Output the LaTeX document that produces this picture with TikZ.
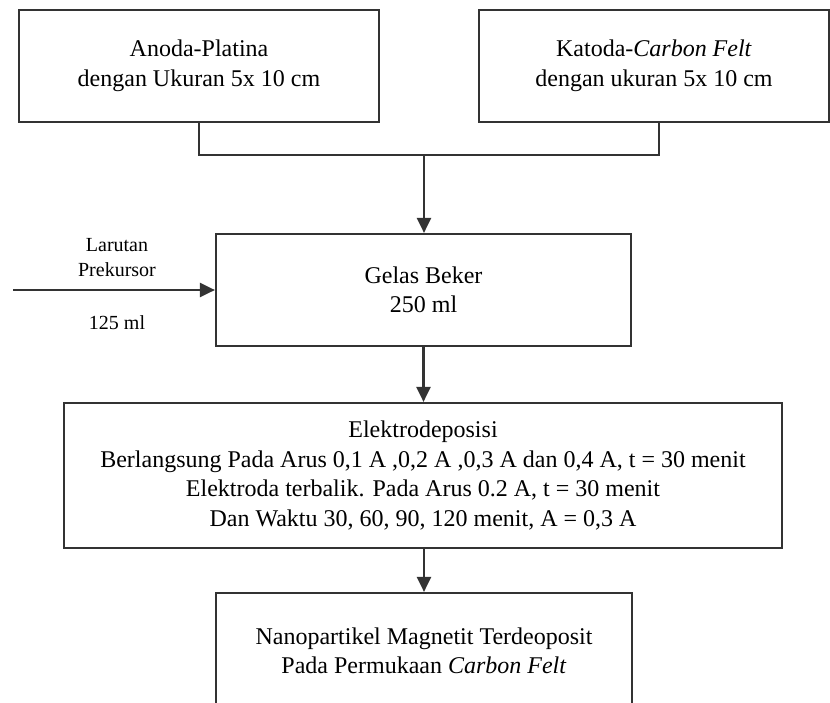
\documentclass[tikz,border=0pt]{standalone}
\usepackage{fontspec}
\setmainfont{Liberation Serif}
\usetikzlibrary{arrows.meta}
\begin{document}
\begin{tikzpicture}[x=1pt,y=-1pt,
  boxtext/.style={font=\fontsize{24}{29.5}\selectfont, align=center},
  stepbox/.style={draw=black!80, line width=2.2pt, inner sep=0pt},
  smalltext/.style={font=\fontsize{20}{25}\selectfont, align=center},
  link/.style={draw=black!80, line width=2.2pt},
  flow/.style={link, -{Triangle[length=15pt,width=14pt]}}]
  \useasboundingbox (0,0) rectangle (830,702);
  \clip (0,0) rectangle (830,702);
  \fill[white] (0,0) rectangle (830,702);

  % electrodes
  \node[stepbox, boxtext, minimum width=360pt, minimum height=112pt] (anoda) at (199,66)
    {Anoda-Platina\\dengan Ukuran 5x 10 cm};
  \node[stepbox, boxtext, minimum width=350pt, minimum height=112pt] (katoda) at (654,66)
    {Katoda-\textit{Carbon Felt}\\dengan ukuran 5x 10 cm};

  % beaker
  \node[stepbox, boxtext, minimum width=415pt, minimum height=112pt] (gelas) at (423.5,290)
    {Gelas Beker\\250 ml};

  % precursor input
  \coordinate (src) at (13,290);
  \node[smalltext] (larutan) at (117,257.5) {Larutan\\Prekursor};
  \node[smalltext] (volume) at (117,323) {125 ml};

  % electrodeposition
  \node[stepbox, boxtext, minimum width=718pt, minimum height=145pt] (elektro) at (423,475.5)
    {Elektrodeposisi\\
     Berlangsung Pada Arus 0,1 A ,0,2 A ,0,3 A dan 0,4 A, t = 30 menit\\
     Elektroda terbalik. Pada Arus 0.2 A, t = 30 menit\\
     Dan Waktu 30, 60, 90, 120 menit, A = 0,3 A};

  % product
  \node[stepbox, minimum width=416pt, minimum height=140pt] (nano) at (424,663) {};
  \node[boxtext] (nanotext) at (424,651)
    {Nanopartikel Magnetit Terdeoposit\\Pada Permukaan \textit{Carbon Felt}};

  % connectors
  \coordinate (join) at (424,155);
  \draw[link] (anoda.south) |- (join) -| ([xshift=5pt]katoda.south);
  \draw[flow] (join) -- (join |- gelas.north);
  \draw[flow] (src) -- (gelas.west);
  \draw[flow] (gelas.south) -- (gelas.south |- elektro.north);
  \draw[flow] (elektro.south -| nano.north) -- (nano.north);
\end{tikzpicture}
\end{document}
